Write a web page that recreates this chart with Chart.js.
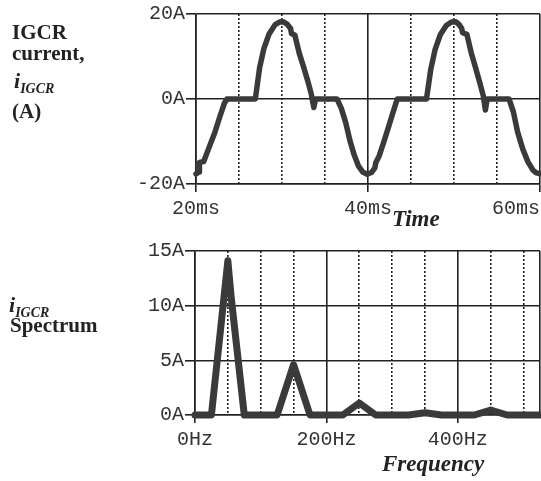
<!DOCTYPE html>
<html>
<head>
<meta charset="utf-8">
<script src="https://cdn.jsdelivr.net/npm/chart.js@4.4.1/dist/chart.umd.min.js"></script>
<style>
  body { margin: 0; background: #fff; }
  #wrap { position: relative; width: 541px; height: 481px; overflow: hidden; color: #222;
          font-family: 'Liberation Serif', 'Times New Roman', serif; }
  canvas { position: absolute; left: 0; }
  .lbl { position: absolute; font-weight: bold; font-size: 21px; line-height: 21px; white-space: nowrap; }
  .it { font-style: italic; }
  .sub { font-size: 14px; position: relative; top: 5px; }
  .axt { position: absolute; font-weight: bold; font-style: italic; font-size: 23px; line-height: 23px; white-space: nowrap; }
</style>
</head>
<body>
<div id="wrap">
  <canvas id="wave" width="541" height="240" style="top:0"></canvas>
  <canvas id="spec" width="541" height="241" style="top:240px"></canvas>

  <div class="lbl" style="left:12px;top:22px">IGCR</div>
  <div class="lbl" style="left:12px;top:43px">current,</div>
  <div class="lbl it" style="left:14px;top:70px"><span style="font-size:22px">i</span><span class="sub">IGCR</span></div>
  <div class="lbl" style="left:12px;top:101px">(A)</div>

  <div class="lbl it" style="left:9px;top:294px"><span style="font-size:22px">i</span><span class="sub">IGCR</span></div>
  <div class="lbl" style="left:10px;top:315px">Spectrum</div>

  <div class="axt" style="left:392px;top:207px">Time</div>
  <div class="axt" style="left:382px;top:452px">Frequency</div>
</div>
<script>
// time domain trace (ms, A)
let timeMs = [20.0, 20.35, 20.4, 20.9, 21.5, 22.2, 22.8, 23.3, 23.6,
    26.9, 27.4, 27.9, 28.5, 29.2, 29.7, 30.1, 30.6, 31.0, 31.1, 31.5, 32.0, 32.5, 33.0, 33.4, 33.7, 33.9,
    36.4, 36.9, 37.4, 37.9, 38.4, 38.9, 39.4, 39.9, 40.4, 40.8, 40.9, 41.3, 41.8, 42.4, 42.9, 43.4,
    46.8, 47.3, 47.8, 48.4, 49.1, 49.7, 50.2, 50.6, 50.9, 51.0, 51.5, 52.0, 52.5, 53.0, 53.4, 53.65, 53.85,
    56.4, 56.9, 57.4, 58.0, 58.6, 59.2, 59.6, 60.0];
let currentA = [-17.6, -17.2, -14.9, -14.7, -11.5, -7.8, -4.0, -1.0, 0,
    0, 7.4, 11.9, 15.3, 17.5, 18.1, 18.2, 17.6, 16.6, 15.4, 15.0, 10.8, 7.6, 4.2, 1.2, -2.0, 0,
    0, -2.2, -5.5, -9.8, -13.2, -15.8, -17.2, -17.7, -17.3, -16.2, -15.0, -13.4, -10.3, -6.5, -3.2, 0,
    0, 7.0, 11.6, 15.1, 17.3, 18.1, 18.2, 17.5, 16.6, 15.6, 15.2, 10.9, 7.4, 3.8, 0.8, -2.6, 0,
    0, -3.0, -7.8, -11.8, -14.8, -16.8, -17.4, -17.6];

let timeTicks = [20, 25, 30, 35, 40, 45, 50, 55, 60];
let timeLabels = {20: "20ms", 40: "40ms", 60: "60ms    "};
let currentTicks = [-20, 0, 20];
let currentLabels = {"-20": "-20A", 0: "0A", 20: "20A"};

// spectrum (Hz, A)
let freqHz = [0, 25, 50, 55, 75, 100, 125, 150, 175, 200, 225, 250, 275, 300, 325, 350, 375, 400, 425, 450, 475, 500, 525];
let spectrumA = [0, 0, 14.1, 10.8, 0, 0, 0, 4.6, 0, 0, 0, 1.1, 0, 0, 0, 0.2, 0, 0, 0, 0.45, 0, 0, 0];

let freqTicks = [0, 50, 100, 150, 200, 250, 300, 350, 400, 450, 500, 525];
let freqLabels = {0: "0Hz", 200: "200Hz", 400: "400Hz"};
let ampTicks = [0, 5, 10, 15];
let ampLabels = {0: "0A", 5: "5A", 10: "10A", 15: "15A"};

let mono = "'Liberation Mono', 'Courier New', monospace";
let ink = "#222";

function xAxis(min, max, ticks, labels, solid, height) {
    return {
        type: "linear", min: min, max: max,
        afterBuildTicks: s => { s.ticks = ticks.map(v => ({value: v})); },
        afterFit: s => { s.height = height; s.paddingLeft = 0; s.paddingRight = 0; },
        ticks: {
            autoSkip: false, maxRotation: 0, padding: 5, color: "#333",
            font: {family: mono, size: 20},
            callback: v => labels[v] || ""
        },
        grid: {
            color: ink, lineWidth: 1.6, tickLength: 8, tickWidth: 1.6,
            tickColor: c => (c.tick && labels[c.tick.value]) ? ink : "rgba(0,0,0,0)"
        },
        border: {
            color: ink, width: 1.6,
            dash: c => (c.tick && solid.indexOf(c.tick.value) < 0) ? [2, 2] : []
        }
    };
}

function yAxis(min, max, ticks, labels, width) {
    return {
        min: min, max: max,
        afterBuildTicks: s => { s.ticks = ticks.map(v => ({value: v})); },
        afterFit: s => { s.width = width; s.paddingTop = 0; s.paddingBottom = 0; },
        ticks: {
            padding: 1, color: "#333",
            font: {family: mono, size: 20},
            callback: v => labels[v] || ""
        },
        grid: {color: ink, lineWidth: 1.6, tickLength: 10, tickWidth: 1.6},
        border: {color: ink, width: 1.6}
    };
}

function plot(id, xs, ys, lineWidth, scales, padding) {
    return new Chart(document.getElementById(id), {
        type: "line",
        data: {
            datasets: [{
                data: xs.map((x, i) => ({x: x, y: ys[i]})),
                borderColor: "#3a3a3a",
                borderWidth: lineWidth,
                pointRadius: 0,
                tension: 0,
                clip: false,
                borderJoinStyle: "round",
                borderCapStyle: "round"
            }]
        },
        options: {
            responsive: false,
            animation: false,
            devicePixelRatio: 1,
            layout: {padding: padding},
            plugins: {legend: {display: false}, tooltip: {enabled: false}},
            scales: scales
        }
    });
}

plot("wave", timeMs, currentA, 5.5, {
    x: xAxis(20, 60, timeTicks, timeLabels, [20, 40, 60], 56),
    y: yAxis(-20, 20, currentTicks, currentLabels, 196)
}, {top: 14, right: 1, bottom: 0, left: 0});

plot("spec", freqHz, spectrumA, 7, {
    x: xAxis(0, 525, freqTicks, freqLabels, [0, 200, 400, 525], 66),
    y: yAxis(0, 15, ampTicks, ampLabels, 195)
}, {top: 11, right: 1, bottom: 0, left: 0});
</script>
</body>
</html>
